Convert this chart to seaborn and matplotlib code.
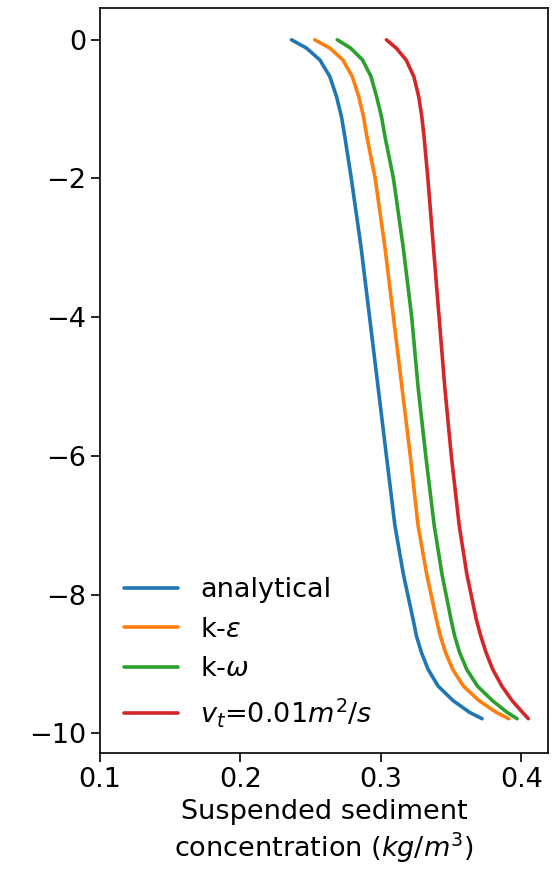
import matplotlib
matplotlib.use("Agg")
import matplotlib.pyplot as plt
import seaborn as sns
import pandas as pd

depth = [0.0, -0.12, -0.29, -0.53, -0.82, -1.11, -1.4, -2.0, -3.0, -4.0, -5.0, -6.0,
         -7.0, -7.7, -8.36, -8.6, -8.84, -9.08, -9.32, -9.53, -9.7, -9.79]

analytical = [0.2364, 0.2471, 0.2566, 0.2637, 0.2685, 0.2720, 0.2744, 0.279, 0.286, 0.292, 0.298, 0.304,
              0.310, 0.316, 0.3230, 0.3254, 0.3290, 0.3337, 0.3408, 0.3515, 0.3633, 0.3721]
k_eps = [0.2530, 0.2637, 0.2730, 0.2797, 0.2843, 0.2877, 0.2901, 0.296, 0.303, 0.309, 0.315, 0.321,
         0.3265, 0.3326, 0.3396, 0.3424, 0.3462, 0.3512, 0.3588, 0.3700, 0.3823, 0.3911]
k_omega = [0.2690, 0.2785, 0.2870, 0.2930, 0.2970, 0.3005, 0.3030, 0.309, 0.316, 0.322, 0.3265, 0.332,
           0.338, 0.3435, 0.3500, 0.3526, 0.3562, 0.3612, 0.3688, 0.3795, 0.3900, 0.3970]
nu_t = [0.3040, 0.3110, 0.3180, 0.3235, 0.3270, 0.3292, 0.3308, 0.3335, 0.3375, 0.3415, 0.3455, 0.3502,
        0.3558, 0.3612, 0.3680, 0.3712, 0.3750, 0.3797, 0.3862, 0.3935, 0.4010, 0.4050]

labels = ["analytical", r"k-$\varepsilon$", r"k-$\omega$", r"$v_t$=0.01$m^2/s$"]
series = [analytical, k_eps, k_omega, nu_t]
colors = ["#1f77b4", "#ff7f0e", "#2ca02c", "#d62728"]

rows = []
for lab, vals in zip(labels, series):
    for d, v in zip(depth, vals):
        rows.append({"model": lab, "conc": v, "depth": d})
df = pd.DataFrame(rows)

sns.set_style("ticks")
plt.rcParams["font.family"] = ["DejaVu Sans"]
plt.rcParams.update({
    "text.color": "black", "axes.labelcolor": "black",
    "xtick.color": "black", "ytick.color": "black", "axes.edgecolor": "black",
})

fig = plt.figure(figsize=(5.58, 8.75), dpi=100)
ax = fig.add_axes([0.179, 0.139, 0.803, 0.852])

sns.lineplot(data=df, x="conc", y="depth", hue="model", hue_order=labels,
             palette=colors, sort=False, estimator=None, linewidth=2.6, ax=ax)

ax.set_xlim(0.1, 0.419)
ax.set_ylim(-10.29, 0.46)
ax.set_xticks([0.1, 0.2, 0.3, 0.4])
ax.set_yticks([0, -2, -4, -6, -8, -10])
ax.tick_params(labelsize=19.5, length=6.5, width=1.2, colors="black")
for s in ax.spines.values():
    s.set_linewidth(1.2)
    s.set_visible(True)
    s.set_color("black")
ax.set_ylabel("")
ax.set_xlabel("Suspended sediment\nconcentration ($kg/m^3$)", fontsize=19.5)
leg = ax.legend(loc="lower left", frameon=False, fontsize=19.5, handlelength=2.0)
for line in leg.get_lines():
    line.set_linewidth(2.6)

fig.savefig("out.png", dpi=100)
